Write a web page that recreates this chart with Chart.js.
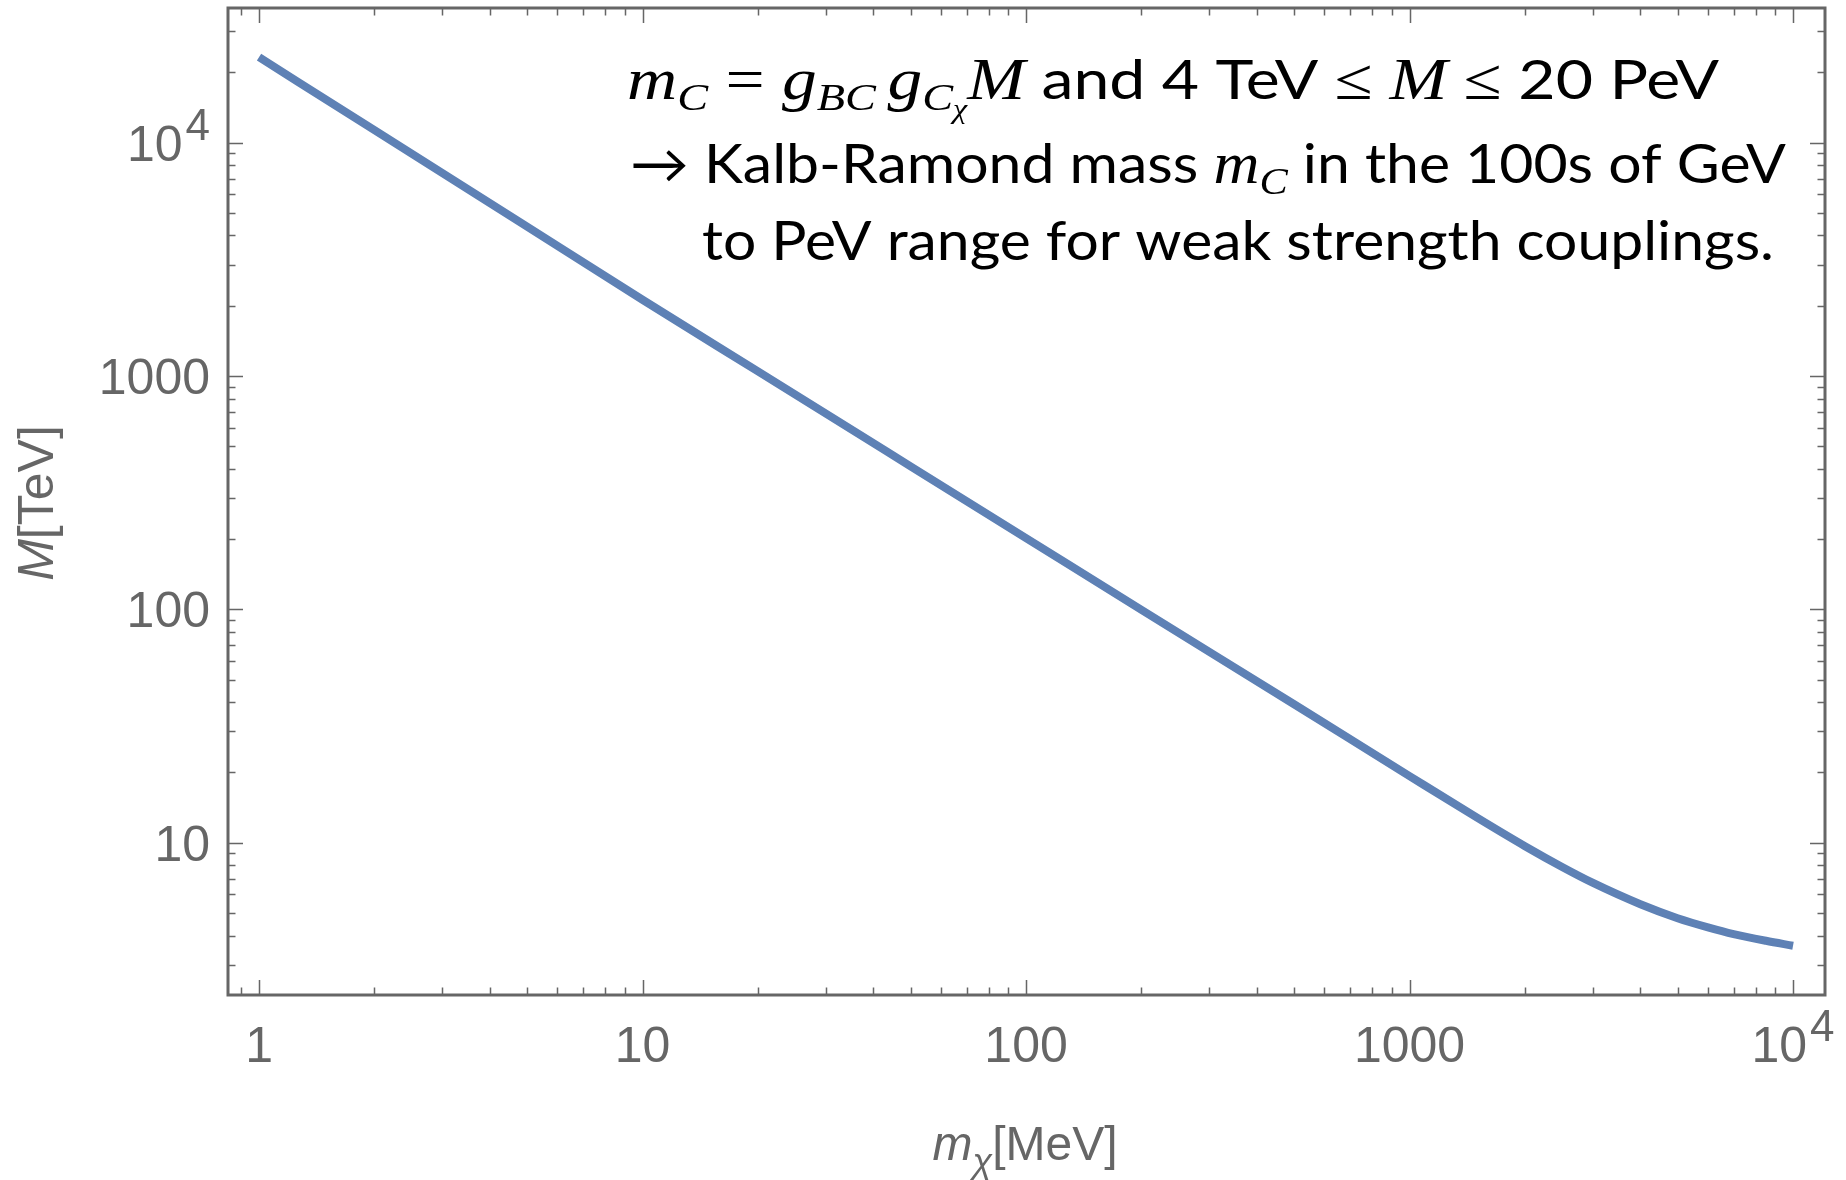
<!DOCTYPE html>
<html>
<head>
<meta charset="utf-8">
<script src="https://cdn.jsdelivr.net/npm/chart.js@4.4.1/dist/chart.umd.min.js"></script>
<style>
  html, body { margin: 0; padding: 0; background: #fff; }
  #wrap { width: 1846px; height: 1180px; position: relative; }
</style>
</head>
<body>
<div id="wrap"><canvas id="massChart"></canvas></div>
<script>
// values
const massMeV = [1, 2, 5, 10, 20, 50, 100, 200, 500, 1000, 1500, 2000, 2500, 3000, 4000, 5000, 6000, 7000, 8500, 10000];
const massTeV = [23200, 11300, 4360, 2120, 1045, 410, 202, 99.5, 39.2, 19.3, 12.8, 9.66, 7.87, 6.74, 5.45, 4.75, 4.34, 4.06, 3.8, 3.62];

// tick labels: [base, superscript]
const xTickValues = [1, 10, 100, 1000, 10000];
const xTickLabels = [['1', ''], ['10', ''], ['100', ''], ['1000', ''], ['10', '4']];
const yTickValues = [10, 100, 1000, 10000];
const yTickLabels = [['10', ''], ['100', ''], ['1000', ''], ['10', '4']];

const xRange = [0.83, 12116];
const yRange = [2.226, 37700];

const gray = '#666666';
const lineBlue = '#5e81b5';
const labelFont = '"Liberation Sans", Arial, sans-serif';

function eachLogTick(min, max, fn) {
  for (let d = Math.floor(Math.log10(min)); d <= Math.ceil(Math.log10(max)); d++) {
    for (let k = 1; k <= 9; k++) {
      const v = k * Math.pow(10, d);
      if (v >= min && v <= max) fn(v, k === 1);
    }
  }
}

function measureLabel(ctx, lab) {
  ctx.font = '50px ' + labelFont;
  let w = ctx.measureText(lab[0]).width;
  if (lab[1]) {
    ctx.font = '44px ' + labelFont;
    w += 3 + ctx.measureText(lab[1]).width;
  }
  return w;
}

function drawLabel(ctx, lab, left, midY) {
  ctx.textAlign = 'left';
  ctx.textBaseline = 'alphabetic';
  const base = midY + 18;
  ctx.font = '50px ' + labelFont;
  ctx.fillText(lab[0], left, base);
  if (lab[1]) {
    const w = ctx.measureText(lab[0]).width;
    ctx.font = '44px ' + labelFont;
    ctx.fillText(lab[1], left + w + 3, base - 21);
  }
}

// rich text line, squeezed to a target width
function drawRich(ctx, segs, x0, x1, baseline) {
  const F = 54;
  const fontOf = s => {
    const size = s.sub === 2 ? F * 0.5 : s.sub ? F * 0.72 : (s.math ? F * 1.08 : F);
    if (s.math === 'up') return size + 'px "Liberation Serif", serif';
    if (s.math) return 'italic ' + size + 'px "Liberation Serif", serif';
    return size + 'px Lato, "DejaVu Sans", sans-serif';
  };
  let total = 0;
  segs.forEach(s => { ctx.font = fontOf(s); s.w = ctx.measureText(s.t).width; total += s.w; });
  const sx = (x1 - x0) / total;
  ctx.save();
  ctx.translate(x0, baseline);
  ctx.scale(sx, 1);
  ctx.fillStyle = '#000';
  ctx.textAlign = 'left';
  ctx.textBaseline = 'alphabetic';
  let cx = 0;
  segs.forEach(s => {
    ctx.font = fontOf(s);
    const dy = s.sub === 2 ? F * 0.36 : s.sub ? F * 0.2 : 0;
    ctx.fillText(s.t, cx, dy);
    cx += s.w;
  });
  ctx.restore();
}

const noteLines = [
  {x0: 627, x1: 1719, y: 99, segs: [
    {t: 'm', math: true}, {t: 'C', math: true, sub: 1}, {t: ' = ', math: 'up'},
    {t: 'g', math: true}, {t: 'BC', math: true, sub: 1}, {t: ' ', math: 'up', sub: 1},
    {t: 'g', math: true}, {t: 'C', math: true, sub: 1}, {t: 'χ', math: true, sub: 2},
    {t: 'M', math: true}, {t: ' and 4 TeV '}, {t: '≤', math: 'up'}, {t: ' '},
    {t: 'M', math: true}, {t: ' '}, {t: '≤', math: 'up'}, {t: ' 20 PeV'}
  ]},
  {x0: 630, x1: 1786, y: 183, segs: [
    {t: '→ Kalb-Ramond mass '}, {t: 'm', math: true}, {t: 'C', math: true, sub: 1},
    {t: ' in the 100s of GeV'}
  ]},
  {x0: 702, x1: 1774, y: 260, segs: [
    {t: 'to PeV range for weak strength couplings.'}
  ]}
];

const frameAndText = {
  id: 'frameAndText',
  afterDraw(chart) {
    const {ctx, chartArea: a, scales: {x, y}} = chart;
    ctx.save();
    ctx.strokeStyle = gray;
    ctx.lineWidth = 1.5;
    ctx.beginPath();
    eachLogTick(x.min, x.max, (v, major) => {
      const px = Math.round(x.getPixelForValue(v)) + 0.5;
      const len = major ? 15 : 7.5;
      ctx.moveTo(px, a.bottom); ctx.lineTo(px, a.bottom - len);
      ctx.moveTo(px, a.top); ctx.lineTo(px, a.top + len);
    });
    eachLogTick(y.min, y.max, (v, major) => {
      const py = Math.round(y.getPixelForValue(v)) + 0.5;
      const len = major ? 15 : 7.5;
      ctx.moveTo(a.left, py); ctx.lineTo(a.left + len, py);
      ctx.moveTo(a.right, py); ctx.lineTo(a.right - len, py);
    });
    ctx.stroke();
    ctx.lineWidth = 3;
    ctx.strokeRect(a.left, a.top, a.right - a.left, a.bottom - a.top);

    // tick labels
    ctx.fillStyle = gray;
    xTickValues.forEach((v, i) => {
      const lab = xTickLabels[i];
      const w = measureLabel(ctx, lab);
      drawLabel(ctx, lab, x.getPixelForValue(v) - w / 2, a.bottom + 49);
    });
    yTickValues.forEach((v, i) => {
      const lab = yTickLabels[i];
      const w = measureLabel(ctx, lab);
      drawLabel(ctx, lab, a.left - 18 - w, y.getPixelForValue(v));
    });

    // x axis title
    const xt = [
      {t: 'm', f: 'italic 48px ' + labelFont, dy: 0},
      {t: 'χ', f: 'italic 36px ' + labelFont, dy: 13},
      {t: '[MeV]', f: '48px ' + labelFont, dy: 0}
    ];
    let tw = 0;
    xt.forEach(s => { ctx.font = s.f; s.w = ctx.measureText(s.t).width; tw += s.w; });
    let cx = 1025 - tw / 2;
    ctx.textAlign = 'left';
    ctx.textBaseline = 'alphabetic';
    xt.forEach(s => { ctx.font = s.f; ctx.fillText(s.t, cx, 1160 + s.dy); cx += s.w; });

    // y axis title
    ctx.save();
    ctx.translate(53, 503);
    ctx.rotate(-Math.PI / 2);
    const yt = [
      {t: 'M', f: 'italic 50px ' + labelFont},
      {t: '[TeV]', f: '50px ' + labelFont}
    ];
    tw = 0;
    yt.forEach(s => { ctx.font = s.f; s.w = ctx.measureText(s.t).width; tw += s.w; });
    cx = -tw / 2;
    yt.forEach(s => { ctx.font = s.f; ctx.fillText(s.t, cx, 0); cx += s.w; });
    ctx.restore();

    // annotation
    noteLines.forEach(l => drawRich(ctx, l.segs, l.x0, l.x1, l.y));
    ctx.restore();
  }
};

new Chart(document.getElementById('massChart'), {
  type: 'line',
  data: {
    datasets: [{
      data: massMeV.map((m, i) => ({x: m, y: massTeV[i]})),
      borderColor: lineBlue,
      borderWidth: 8,
      pointRadius: 0,
      cubicInterpolationMode: 'monotone',
      fill: false
    }]
  },
  options: {
    responsive: true,
    maintainAspectRatio: false,
    animation: false,
    layout: { padding: { top: 8, right: 21, left: 0, bottom: 0 } },
    plugins: { legend: { display: false }, tooltip: { enabled: false } },
    scales: {
      x: {
        type: 'logarithmic', min: xRange[0], max: xRange[1],
        grid: { display: false }, border: { display: false }, ticks: { display: false },
        afterFit(s) { s.height = 185; }
      },
      y: {
        type: 'logarithmic', min: yRange[0], max: yRange[1],
        grid: { display: false }, border: { display: false }, ticks: { display: false },
        afterFit(s) { s.width = 228; }
      }
    }
  },
  plugins: [frameAndText]
});
</script>
</body>
</html>
